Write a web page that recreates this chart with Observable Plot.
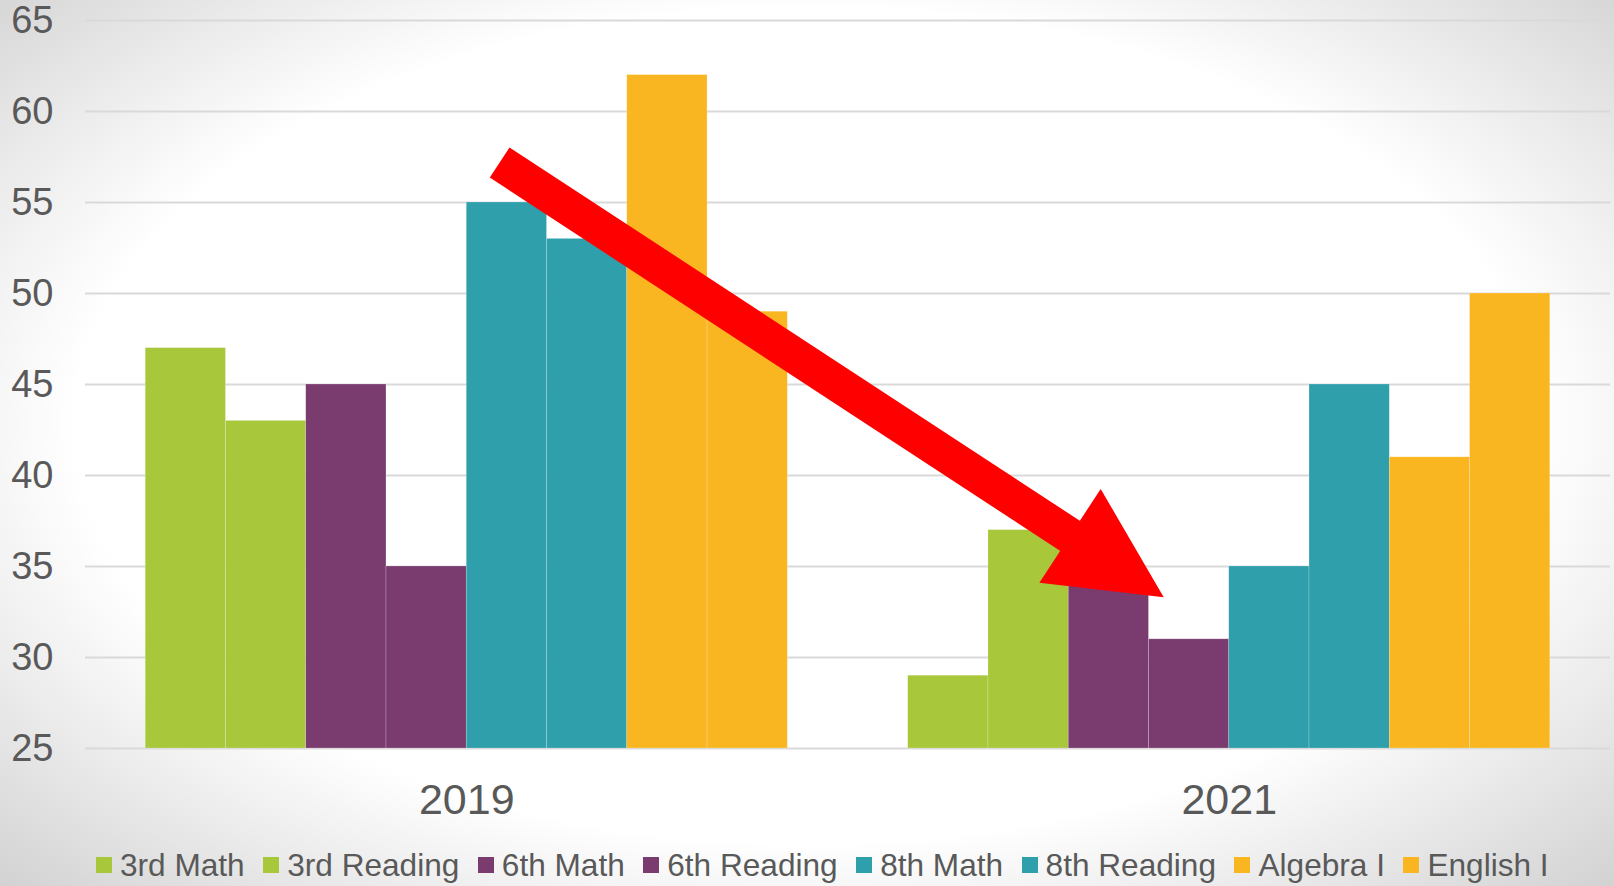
<!DOCTYPE html>
<html>
<head>
<meta charset="utf-8">
<script src="https://cdn.jsdelivr.net/npm/d3@7"></script>
<script src="https://cdn.jsdelivr.net/npm/@observablehq/plot@0.6"></script>
<style>
  html, body { margin: 0; padding: 0; }
  body {
    width: 1614px; height: 886px; overflow: hidden; position: relative;
    background: radial-gradient(ellipse farthest-corner at 50% 48%, #ffffff 0%, #ffffff 64%, #d2d2d2 100%);
    font-family: "Liberation Sans", Arial, sans-serif;
  }
  #chart { position: absolute; left: 0; top: 0; }
  #legend {
    position: absolute; left: 96px; top: 845px; height: 40px;
    display: flex; align-items: center; white-space: nowrap;
    font-size: 31.6px; color: #595959;
  }
  .item { display: flex; align-items: center; margin-right: 18.5px; }
  .sw { width: 16px; height: 16px; margin-right: 8px; }
</style>
</head>
<body>
<div id="chart"></div>
<div id="legend"></div>
<script>
// ---- data ----
const years = ["2019", "2021"];
const series = ["3rd Math", "3rd Reading", "6th Math", "6th Reading", "8th Math", "8th Reading", "Algebra I", "English I"];
const values2019 = [47, 43, 45, 35, 55, 53, 62, 49];
const values2021 = [29, 37, 34, 31, 35, 45, 41, 50];
const seriesColors = ["#a9c73a", "#a9c73a", "#7a3c6f", "#7a3c6f", "#2e9fab", "#2e9fab", "#f9b621", "#f9b621"];
const yTicks = [25, 30, 35, 40, 45, 50, 55, 60, 65];
// red arrow annotation, in chart units (bar slots along x, score along y)
const arrowPoints = [
  {slot: 4.41, value: 57.2},   // tail
  {slot: 12.10, value: 35.0}   // head
];

// ---- layout in bar slots ----
const groupStep = 9.5;   // 8 bars + gap between year groups
const allValues = [values2019, values2021];
const rows = [];
years.forEach((year, g) => {
  series.forEach((s, i) => {
    rows.push({year, series: s, value: allValues[g][i], x1: g * groupStep + i, x2: g * groupStep + i + 1});
  });
});
const yearCenters = years.map((y, g) => g * groupStep + series.length / 2);

// arrowhead: isosceles triangle, base = height
const arrowHeadSymbol = {
  draw(context, size) {
    const r = Math.sqrt(size / Math.PI);
    context.moveTo(0, -r);
    context.lineTo(r, r);
    context.lineTo(-r, r);
    context.closePath();
  }
};

const chart = Plot.plot({
  width: 1614,
  height: 840,
  marginTop: 20,
  marginBottom: 92,
  marginLeft: 85,
  marginRight: 4,
  style: {background: "transparent", color: "#595959", fontFamily: "'Liberation Sans', Arial, sans-serif", overflow: "visible"},
  x: {type: "linear", domain: [-0.75, groupStep + series.length + 0.75], axis: null},
  y: {domain: [25, 65], axis: null},
  color: {domain: series, range: seriesColors},
  marks: [
    Plot.gridY(yTicks, {stroke: "#d9d9d9", strokeOpacity: 1, strokeWidth: 2}),
    Plot.axisY(yTicks, {tickSize: 0, tickPadding: 32, fontSize: 38, fill: "#595959", label: null}),
    Plot.axisX(yearCenters, {tickSize: 0, tickPadding: 35, fontSize: 43, fill: "#595959", label: null,
      tickFormat: d => years[yearCenters.indexOf(d)]}),
    Plot.rect(rows, {x1: "x1", x2: "x2", y1: 25, y2: "value", fill: "series",
      stroke: "#ffffff", strokeOpacity: 0.35, strokeWidth: 0.6}),
    Plot.line(arrowPoints, {x: "slot", y: "value", stroke: "#ff0000", strokeWidth: 36, strokeLinecap: "butt"}),
    Plot.dot([arrowPoints[1]], {x: "slot", y: "value", r: 56, symbol: arrowHeadSymbol,
      fill: "#ff0000", stroke: "none", rotate: 123.2})
  ]
});
document.getElementById("chart").appendChild(chart);

// ---- legend ----
const legend = document.getElementById("legend");
series.forEach((s, i) => {
  const item = document.createElement("div");
  item.className = "item";
  const sw = document.createElement("div");
  sw.className = "sw";
  sw.style.background = seriesColors[i];
  const label = document.createElement("span");
  label.textContent = s;
  item.appendChild(sw);
  item.appendChild(label);
  legend.appendChild(item);
});
</script>
</body>
</html>
